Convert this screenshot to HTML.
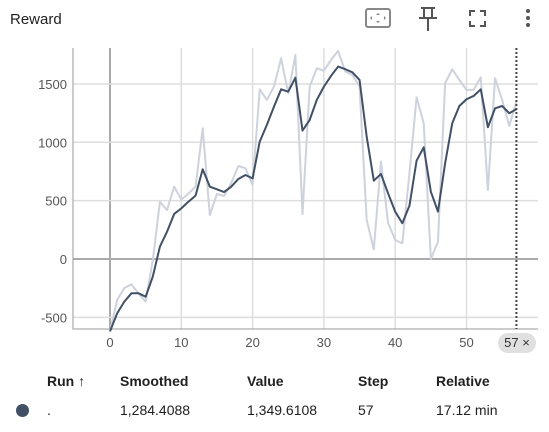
<!DOCTYPE html>
<html><head><meta charset="utf-8">
<style>
body{margin:0;width:549px;height:432px;background:#fff;font-family:"Liberation Sans",sans-serif;overflow:hidden;position:relative;color:#212121}
.t{position:absolute;font-size:14px}
.h{position:absolute;font-size:14px;font-weight:bold;top:373px}
.r{position:absolute;font-size:14px;top:402px}
</style></head><body>
<div class="t" style="left:10px;top:11px;font-size:15px">Reward</div>
<svg width="549" height="40" style="position:absolute;left:0;top:0">
<g><rect x="366" y="9" width="24" height="18" rx="2" fill="none" stroke="#888" stroke-width="2"/><path d="M378 13l-2 2h4zM378 23l-2-2h4zM370 18l2-2v4zM386 18l-2-2v4z" fill="#888"/></g>
<g fill="#555"><rect x="421" y="7" width="14" height="2"/><rect x="423" y="9" width="2" height="9"/><rect x="431" y="9" width="2" height="9"/><rect x="419" y="17" width="18" height="2"/><rect x="427" y="19" width="2" height="12"/></g>
<g fill="none" stroke="#555" stroke-width="2"><path d="M470 16v-5h5M480 11h5v5M485 21v5h-5M475 26h-5v-5"/></g>
<g fill="#555"><circle cx="528" cy="11" r="2"/><circle cx="528" cy="18" r="2"/><circle cx="528" cy="25" r="2"/></g>
</svg>
<svg id="chart" width="549" height="360" style="position:absolute;left:0;top:0"></svg>
<div style="position:absolute;left:498px;top:333px;width:38px;height:20px;border-radius:10px;background:#e0e0e0;font-size:13px;line-height:20px;text-align:center;color:#333">57 ×</div>
<div class="h" style="left:47px">Run ↑</div>
<div class="h" style="left:120px">Smoothed</div>
<div class="h" style="left:247px">Value</div>
<div class="h" style="left:358px">Step</div>
<div class="h" style="left:436px">Relative</div>
<div style="position:absolute;left:16px;top:404px;width:13px;height:13px;border-radius:50%;background:#425066"></div>
<div class="r" style="left:47px">.</div>
<div class="r" style="left:120px">1,284.4088</div>
<div class="r" style="left:247px">1,349.6108</div>
<div class="r" style="left:358px">57</div>
<div class="r" style="left:436px">17.12 min</div>
<script>
const steps=[0,1,2,3,4,5,6,7,8,9,10,11,12,13,14,15,16,17,18,19,20,21,22,23,24,25,26,27,28,29,30,31,32,33,34,35,36,37,38,39,40,41,42,43,44,45,46,47,48,49,50,51,52,53,54,55,56,57];
const rawValues=[-620,-350,-250,-217,-295,-365,-10,490,420,620,510,560,620,1120,377,557,540,650,797,777,634,1454,1363,1477,1720,1420,1748,386,1477,1634,1614,1706,1783,1606,1577,1477,334,83,834,311,163,134,734,1386,1163,0,149,1506,1626,1534,1449,1449,1557,591,1549,1363,1140,1350];
const smoothedValues=[-620,-466,-366,-294,-294,-323,-151,106,234,386,434,491,543,769,620,597,574,620,686,720,691,1006,1149,1306,1454,1434,1554,1100,1191,1363,1477,1569,1649,1626,1600,1534,1049,671,729,563,406,306,457,843,957,577,406,820,1163,1311,1369,1397,1454,1129,1291,1311,1249,1284];
const xTicks=[0,10,20,30,40,50];
const yTicks=[-500,0,500,1000,1500];
const cursorStep=57;
const NS="http://www.w3.org/2000/svg";
const svg=document.getElementById('chart');
const L=73,R=538,T=48,B=329;
const xs=s=>110+s*7.13;
const ys=v=>259-v*0.1167;
function el(t,a){const e=document.createElementNS(NS,t);for(const k in a)e.setAttribute(k,a[k]);svg.appendChild(e);return e;}
xTicks.forEach(t=>{
 const g=el('line',{x1:xs(t),x2:xs(t),y1:T,y2:B,stroke:t===0?'#aaa':'#ddd','stroke-width':t===0?2:1.5});
 
 
 const tx=el('text',{x:xs(t),y:347,'text-anchor':'middle','font-size':13,fill:'#555','font-family':'Liberation Sans, sans-serif'});
 tx.textContent=t;
 
 
});
yTicks.forEach(t=>{
 const g=el('line',{x1:L,x2:R,y1:ys(t),y2:ys(t),stroke:t===0?'#aaa':'#ddd','stroke-width':t===0?2:1.5});
 
 
 const tx=el('text',{x:67,y:ys(t)+5,'text-anchor':'end','font-size':13,fill:'#555','font-family':'Liberation Sans, sans-serif'});
 tx.textContent=t;
 
 
});
const ax=el('path',{d:`M${L} ${T}V${B}H${R}`,fill:'none',stroke:'#999','stroke-width':1});


const rl=el('polyline',{points:steps.map((s,i)=>xs(s)+','+ys(rawValues[i])).join(' '),fill:'none',stroke:'#cdd2dc','stroke-width':2,'stroke-linejoin':'round'});


const sl=el('polyline',{points:steps.map((s,i)=>xs(s)+','+ys(smoothedValues[i])).join(' '),fill:'none',stroke:'#425066','stroke-width':2,'stroke-linejoin':'round'});


const cl=el('line',{x1:xs(cursorStep),x2:xs(cursorStep),y1:T,y2:B,stroke:'#444','stroke-width':2,'stroke-dasharray':'2,2'});


const rs=el('path',{d:'M537 361l-6 6M541 363l-6 6',stroke:'#777','stroke-width':1});


</script>
</body></html>
